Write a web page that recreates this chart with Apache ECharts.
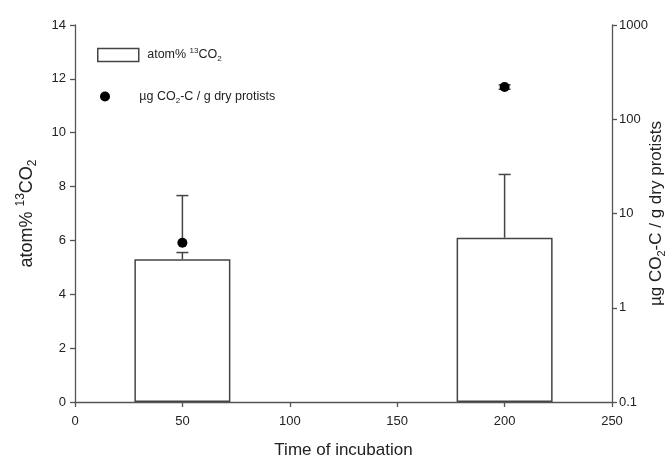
<!DOCTYPE html>
<html lang="en">
<head>
    <meta charset="UTF-8">
    <title>atom% 13CO2</title>
    <script src="https://cdn.jsdelivr.net/npm/echarts@6/dist/echarts.min.js"></script>
</head>
<body style="margin:0">
<style>
    html, body {
        width: 100%;
        height: 100%;
        background: #fff;
    }

    #main {
        width: 668px;
        height: 462px;
    }
</style>
<div id="main"></div>
<script type="text/javascript">
    // incubation time (x) and the two measured quantities
    var times = [50, 200]
    var atomPct = [5.3, 6.1]          // bars, left axis
    var atomErr = [0.25, 2.35]        // upper error of bars
    var co2C = [4.9, 220]             // dots, right (log) axis
    var co2Lo = [4.9, 208]            // dot error ends
    var co2Hi = [15.5, 232]
    var xTicks = [0, 50, 100, 150, 200, 250]
    var leftTicks = [0, 2, 4, 6, 8, 10, 12, 14]
    var rightTicks = [0.1, 1, 10, 100, 1000]

    var font = 'Liberation Sans, Arial, sans-serif'
    var axisColor = '#555'
    var textColor = '#222'

    var barName = 'atom% 13CO2'
    var dotName = 'µg CO2-C / g dry protists'

    function errItem(params, api) {
        var x = api.value(0)
        var lo = api.coord([x, api.value(1)])
        var hi = api.coord([x, api.value(2)])
        var capLo = api.value(3)
        var half = 6
        var style = {stroke: '#444', lineWidth: 1.5}
        var children = [
            {type: 'line', shape: {x1: lo[0], y1: lo[1], x2: hi[0], y2: hi[1]}, style: style},
            {type: 'line', shape: {x1: hi[0] - half, y1: hi[1], x2: hi[0] + half, y2: hi[1]}, style: style}
        ]
        if (capLo) {
            children.push({type: 'line', shape: {x1: lo[0] - half, y1: lo[1], x2: lo[0] + half, y2: lo[1]}, style: style})
        }
        return {type: 'group', children: children}
    }

    function richOf(size, small, lh) {
        return {
            n: {fontFamily: font, color: textColor, fontSize: size, lineHeight: lh},
            sup: {fontFamily: font, color: textColor, fontSize: small, lineHeight: lh, verticalAlign: 'top'},
            sub: {fontFamily: font, color: textColor, fontSize: small, lineHeight: lh, verticalAlign: 'bottom'}
        }
    }

    var option = {
        animation: false,
        backgroundColor: '#fff',
        grid: {left: 75, right: 56, top: 25, bottom: 60, containLabel: false, outerBoundsMode: 'none'},
        legend: [{
            left: 92, top: 42,
            data: [barName],
            icon: 'rect',
            itemWidth: 41, itemHeight: 13,
            itemStyle: {color: '#fff', borderColor: '#444', borderWidth: 1.5},
            formatter: function () { return '{n| atom% }{sup|13}{n|CO}{sub|2}' },
            textStyle: {rich: richOf(12.5, 8, 16)},
            selectedMode: false
        }, {
            left: 95, top: 85,
            data: [dotName],
            icon: 'circle',
            itemWidth: 10, itemHeight: 10,
            itemStyle: {color: '#000', opacity: 1},
            formatter: function () { return '{n|       µg CO}{sub|2}{n|-C / g dry protists}' },
            textStyle: {rich: richOf(12.5, 8, 16)},
            selectedMode: false
        }],
        xAxis: {
            type: 'value',
            min: xTicks[0], max: xTicks[xTicks.length - 1], interval: 50,
            name: 'Time of incubation',
            nameLocation: 'middle',
            nameGap: 40,
            nameMoveOverlap: false,
            nameTextStyle: {fontFamily: font, fontSize: 17, color: textColor},
            axisLine: {lineStyle: {color: axisColor, width: 1.3}},
            axisTick: {length: 5, lineStyle: {color: axisColor, width: 1.3}},
            axisLabel: {fontFamily: font, fontSize: 13, color: textColor, margin: 13},
            splitLine: {show: false}
        },
        yAxis: [{
            type: 'value',
            min: leftTicks[0], max: leftTicks[leftTicks.length - 1], interval: 2,
            name: '{n|atom% }{sup|13}{n|CO}{sub|2}',
            nameLocation: 'middle',
            nameRotate: 90,
            nameGap: 36,
            nameMoveOverlap: false,
            nameTextStyle: {rich: richOf(18, 12, 24)},
            axisLine: {show: true, lineStyle: {color: axisColor, width: 1.3}},
            axisTick: {show: true, length: 5, lineStyle: {color: axisColor, width: 1.3}},
            axisLabel: {fontFamily: font, fontSize: 13, color: textColor, margin: 9},
            splitLine: {show: false}
        }, {
            type: 'log',
            logBase: 10,
            min: rightTicks[0], max: rightTicks[rightTicks.length - 1],
            position: 'right',
            name: '{n|µg CO}{sub|2}{n|-C / g dry protists}',
            nameLocation: 'middle',
            nameRotate: 90,
            nameGap: 33,
            nameMoveOverlap: false,
            nameTextStyle: {rich: richOf(17, 11, 22)},
            axisLine: {show: true, lineStyle: {color: axisColor, width: 1.3}},
            axisTick: {show: true, length: 5, lineStyle: {color: axisColor, width: 1.3}},
            axisLabel: {
                fontFamily: font, fontSize: 13, color: textColor, margin: 7,
                formatter: function (v) { return String(+v.toPrecision(3)) }
            },
            minorTick: {show: false},
            splitLine: {show: false}
        }],
        series: [{
            name: barName,
            type: 'bar',
            yAxisIndex: 0,
            barWidth: 96,
            data: times.map((t, i) => [t, atomPct[i]]),
            itemStyle: {color: '#fff', borderColor: '#444', borderWidth: 1.5},
            z: 2
        }, {
            type: 'custom',
            yAxisIndex: 0,
            renderItem: errItem,
            data: times.map((t, i) => [t, atomPct[i], atomPct[i] + atomErr[i], 0]),
            z: 3
        }, {
            type: 'custom',
            yAxisIndex: 1,
            renderItem: errItem,
            data: times.map((t, i) => [t, co2Lo[i], co2Hi[i], i === 0 ? 0 : 1]),
            z: 3
        }, {
            name: dotName,
            type: 'scatter',
            yAxisIndex: 1,
            symbol: 'circle',
            symbolSize: 10,
            data: times.map((t, i) => [t, co2C[i]]),
            itemStyle: {color: '#000', opacity: 1},
            z: 4
        }]
    }

    var myChart = echarts.init(document.getElementById('main'))
    myChart.setOption(option)
</script>
</body>
</html>
